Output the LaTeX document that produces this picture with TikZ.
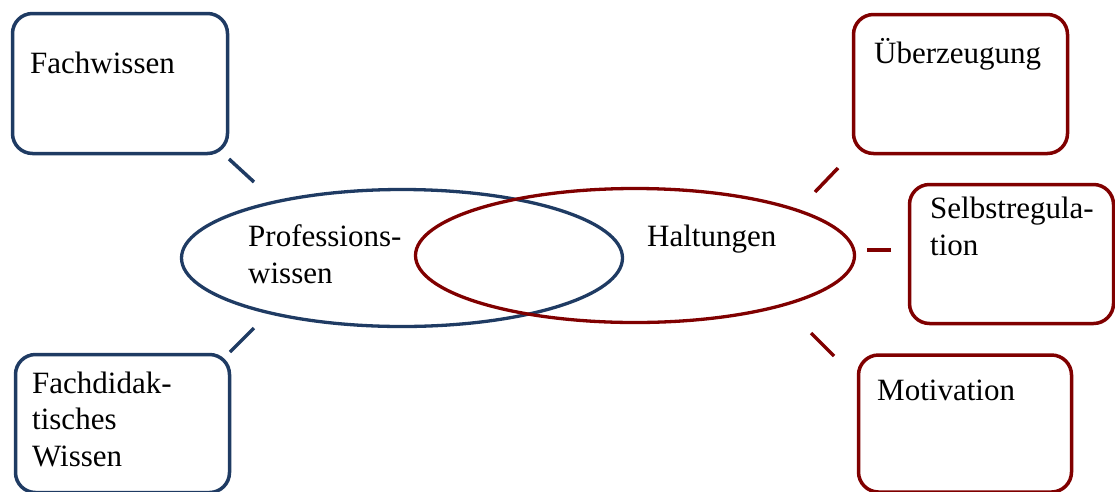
\documentclass[tikz,border=0pt]{standalone}
\usepackage{fontspec}
\setmainfont{Liberation Serif}
\definecolor{navy}{HTML}{1F3B63}
\definecolor{darkred}{HTML}{800000}
\begin{document}
\begin{tikzpicture}[x=1pt,y=-1pt,
  bluebox/.style={draw=navy,line width=3.5pt,rounded corners=20pt,rectangle,inner sep=0pt},
  redbox/.style={draw=darkred,line width=3.5pt,rounded corners=20pt,rectangle,inner sep=0pt},
  blueell/.style={draw=navy,line width=3.3pt},
  redell/.style={draw=darkred,line width=3.3pt},
  txt/.style={anchor=base west,inner sep=0pt,align=left,font=\fontsize{31}{36.5}\selectfont},
  blueline/.style={draw=navy,line width=3.5pt},
  redline/.style={draw=darkred,line width=3.5pt}]
\useasboundingbox (0,0) rectangle (1115,491);
% boxes
\node[bluebox,minimum width=215pt,minimum height=140pt] (fw) at (120,83.5) {};
\node[bluebox,minimum width=214pt,minimum height=138pt] (fd) at (122.5,423.5) {};
\node[redbox,minimum width=214pt,minimum height=139pt] (ub) at (960.5,84) {};
\node[redbox,minimum width=204pt,minimum height=139pt] (sr) at (1011.5,254) {};
\node[redbox,minimum width=213pt,minimum height=137pt] (mo) at (965,423.5) {};
% ellipses
\draw[blueell] (402,258) ellipse [x radius=220.5pt, y radius=68.5pt];
\draw[redell] (635,255.5) ellipse [x radius=219.5pt, y radius=67pt];
% texts (base = last line)
\node[txt] (fwt) at (30,73) {Fachwissen};
\node[txt] (fdt) at (32,466) {Fachdidak-\\tisches\\Wissen};
\node[txt] (ubt) at (874,63) {Überzeugung};
\node[txt] (srt) at (930,255) {Selbstregula-\\tion};
\node[txt] (mot) at (877,400) {Motivation};
\node[txt] (pwt) at (248,283) {Professions-\\wissen};
\node[txt] (hat) at (647,246) {Haltungen};
% connectors
\coordinate (a1) at (229,159); \coordinate (b1) at (254,182);
\coordinate (a2) at (230,352); \coordinate (b2) at (254,328);
\coordinate (a3) at (838,168); \coordinate (b3) at (815,192);
\coordinate (a4) at (891,250); \coordinate (b4) at (867,250);
\coordinate (a5) at (834,356); \coordinate (b5) at (811,333);
\draw[blueline] (a1) -- (b1);
\draw[blueline] (a2) -- (b2);
\draw[redline] (a3) -- (b3);
\draw[redline] (a4) -- (b4);
\draw[redline] (a5) -- (b5);
\end{tikzpicture}
\end{document}
